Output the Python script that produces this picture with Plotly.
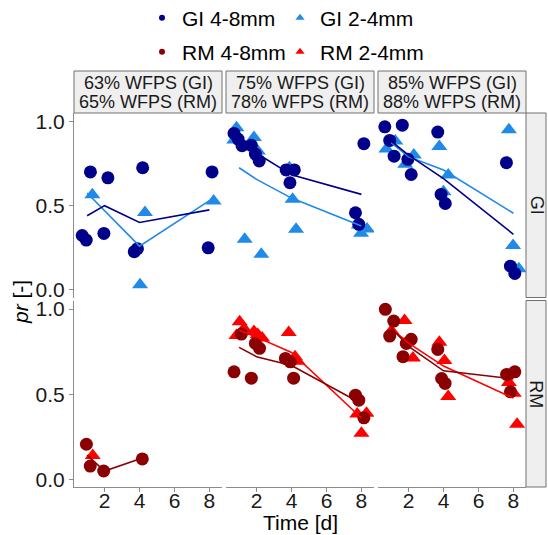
import plotly.graph_objects as go

# ---------------- data ----------------
TIMES = [1, 2, 4, 8]
X_TICKS = [2, 4, 6, 8]
Y_TICKS = [0.0, 0.5, 1.0]
Y_TICK_TEXT = ["0.0", "0.5", "1.0"]
STRIP_TOP_LINE1 = ["63% WFPS (GI)", "75% WFPS (GI)", "85% WFPS (GI)"]
STRIP_TOP_LINE2 = ["65% WFPS (RM)", "78% WFPS (RM)", "88% WFPS (RM)"]
ROW_LABELS = ["GI", "RM"]
SERIES_NAMES = ["GI 4-8mm", "GI 2-4mm", "RM 4-8mm", "RM 2-4mm"]

# GI 4-8mm points, one list per WFPS column
GI48_X = [[0.72, 0.95, 1.19, 1.96, 2.19, 3.70, 3.88, 4.18, 7.93, 8.15],
          [0.71, 0.94, 1.17, 1.70, 1.93, 2.15, 3.69, 3.91, 4.16, 7.66, 7.85, 8.14],
          [0.64, 0.92, 1.17, 1.64, 1.96, 2.15, 3.67, 3.86, 4.10, 7.60, 7.83, 8.08]]
GI48_Y = [[0.323, 0.296, 0.700, 0.335, 0.665, 0.227, 0.245, 0.725, 0.250, 0.700],
          [0.929, 0.895, 0.856, 0.858, 0.806, 0.765, 0.712, 0.636, 0.712, 0.458, 0.389, 0.868],
          [0.968, 0.887, 0.794, 0.978, 0.775, 0.685, 0.937, 0.567, 0.513, 0.755, 0.141, 0.098]]
# GI 2-4mm points
GI24_X = [[1.30, 4.03, 4.31, 8.24],
          [0.72, 0.85, 1.32, 1.85, 2.07, 2.27, 3.88, 4.06, 4.26, 7.85, 7.98, 8.32],
          [0.73, 1.24, 1.81, 2.30, 3.76, 4.00, 4.27, 7.74, 7.98, 8.31]]
GI24_Y = [[0.565, 0.030, 0.460, 0.527],
          [0.890, 0.963, 0.300, 0.905, 0.825, 0.211, 0.725, 0.538, 0.360, 0.386, 0.336, 0.362],
          [0.837, 0.884, 0.746, 0.801, 0.851, 0.583, 0.682, 0.950, 0.263, 0.125]]
# RM 4-8mm points
RM48_X = [[0.96, 1.18, 1.95, 4.16],
          [0.71, 1.13, 1.70, 1.93, 2.17, 3.65, 3.93, 4.12, 7.66, 7.85, 8.14],
          [0.67, 0.92, 1.15, 1.68, 1.87, 2.15, 3.67, 3.89, 4.09, 7.61, 7.83, 8.08]]
RM48_Y = [[0.206, 0.078, 0.049, 0.120],
          [0.631, 0.853, 0.594, 0.798, 0.769, 0.710, 0.690, 0.594, 0.494, 0.465, 0.361],
          [0.998, 0.841, 0.929, 0.720, 0.798, 0.822, 0.763, 0.592, 0.563, 0.616, 0.514, 0.631]]
# RM 2-4mm points
RM24_X = [[1.32],
          [0.85, 1.03, 1.28, 1.85, 2.07, 2.32, 3.84, 4.20, 4.35, 7.76, 8.00, 8.29],
          [1.02, 1.77, 2.25, 3.76, 4.05, 4.27, 7.74, 8.02, 8.21]]
RM24_Y = [[0.140],
          [0.845, 0.925, 0.885, 0.868, 0.850, 0.830, 0.862, 0.720, 0.693, 0.383, 0.270, 0.388],
          [0.873, 0.932, 0.712, 0.805, 0.697, 0.487, 0.569, 0.505, 0.324]]

# mean lines (time, value) per column
GI48_LINE_T = [[1, 2, 4, 8], [1, 2, 4, 8], [1, 2, 4, 8]]
GI48_LINE_Y = [[0.44, 0.50, 0.40, 0.475], [0.895, 0.811, 0.683, 0.567], [0.883, 0.80, 0.66, 0.33]]
GI24_LINE_T = [[1, 4, 8], [1, 2, 4, 8], [1, 2, 4, 8]]
GI24_LINE_Y = [[0.575, 0.26, 0.53], [0.725, 0.656, 0.545, 0.38], [0.874, 0.79, 0.712, 0.455]]
RM48_LINE_T = [[1, 2, 4], [1, 2, 4, 8], [1, 2, 4, 8]]
RM48_LINE_Y = [[0.142, 0.049, 0.12], [0.775, 0.72, 0.668, 0.445], [0.89, 0.78, 0.637, 0.59]]
RM24_LINE_T = [[], [1, 2, 4, 8], [1, 2, 4, 8]]
RM24_LINE_Y = [[], [0.876, 0.835, 0.745, 0.36], [0.886, 0.80, 0.665, 0.477]]

# ---------------- styling ----------------
FONT = "Liberation Sans, Arial, sans-serif"
COLORS = {"GI 4-8mm": "#00008B", "GI 2-4mm": "#1F8AE8",
          "RM 4-8mm": "#8B0000", "RM 2-4mm": "#FF0000"}
SYMBOLS = {"GI 4-8mm": "circle", "GI 2-4mm": "triangle-up",
           "RM 4-8mm": "circle", "RM 2-4mm": "triangle-up"}
SIZES = {"circle": 13, "triangle-up": 14}

W, H = 548, 535
ML, MR, MT, MB = 74, 2, 71, 48
PW, PH = W - ML - MR, H - MT - MB


def px_x(p):
    return (p - ML) / PW


def px_y(p):
    return (H - MB - p) / PH


COL_DOM = [[px_x(74), px_x(222)], [px_x(226), px_x(374)], [px_x(378), px_x(526)]]
ROW_DOM = [[px_y(297.5), px_y(113)], [px_y(487), px_y(300.5)]]
XR = [0.25, 8.72]
YR = [-0.045, 1.05]
AX_GREY = "#8C8C8C"
STRIP_FILL = "#EFEFEF"
STRIP_LINE = "#707070"

fig = go.Figure()

series = [
    ("GI 2-4mm", 0, GI24_X, GI24_Y, GI24_LINE_T, GI24_LINE_Y),
    ("GI 4-8mm", 0, GI48_X, GI48_Y, GI48_LINE_T, GI48_LINE_Y),
    ("RM 2-4mm", 1, RM24_X, RM24_Y, RM24_LINE_T, RM24_LINE_Y),
    ("RM 4-8mm", 1, RM48_X, RM48_Y, RM48_LINE_T, RM48_LINE_Y),
]


def ax_id(r, c):
    i = r * 3 + c + 1
    return ("x" if i == 1 else f"x{i}"), ("y" if i == 1 else f"y{i}")


# points
for name, r, xs, ys, lt, ly in series:
    for c in range(3):
        xa, ya = ax_id(r, c)
        fig.add_trace(go.Scatter(
            x=xs[c], y=ys[c], mode="markers", xaxis=xa, yaxis=ya,
            marker=dict(symbol=SYMBOLS[name], size=SIZES[SYMBOLS[name]], color=COLORS[name],
                        line=dict(width=0)),
            showlegend=False, hoverinfo="skip"))
# lines
for name, r, xs, ys, lt, ly in series:
    for c in range(3):
        if not lt[c]:
            continue
        xa, ya = ax_id(r, c)
        fig.add_trace(go.Scatter(
            x=lt[c], y=ly[c], mode="lines", xaxis=xa, yaxis=ya,
            line=dict(color=COLORS[name], width=1.6),
            showlegend=False, hoverinfo="skip"))

# legend entries (one legend each, positioned as in reference)
LEG_POS = {"GI 4-8mm": ("legend", 142, 18), "GI 2-4mm": ("legend2", 280, 18),
           "RM 4-8mm": ("legend3", 142, 52), "RM 2-4mm": ("legend4", 280, 52)}
for name in SERIES_NAMES:
    lg, lx, ly_ = LEG_POS[name]
    fig.add_trace(go.Scatter(
        x=[None], y=[None], mode="markers", name=name, legend=lg,
        marker=dict(symbol=SYMBOLS[name], size=6 if SYMBOLS[name] == "circle" else 8,
                    color=COLORS[name]),
        showlegend=True))

layout = dict(
    width=W, height=H,
    margin=dict(l=ML, r=MR, t=MT, b=MB, pad=0, autoexpand=False),
    paper_bgcolor="white", plot_bgcolor="white",
    font=dict(family=FONT, color="#000000"),
)
for lg, lx, ly_ in LEG_POS.values():
    layout[lg] = dict(x=px_x(lx), y=px_y(ly_), xanchor="left", yanchor="middle",
                      orientation="h", font=dict(size=21, color="#000000"),
                      bgcolor="rgba(0,0,0,0)", itemsizing="trace")

for r in range(2):
    for c in range(3):
        i = r * 3 + c + 1
        xkey = "xaxis" if i == 1 else f"xaxis{i}"
        ykey = "yaxis" if i == 1 else f"yaxis{i}"
        xa, ya = ax_id(r, c)
        bottom = (r == 1)
        left = (c == 0)
        layout[xkey] = dict(
            domain=COL_DOM[c], anchor=ya, range=XR, showgrid=False, zeroline=False,
            showline=bottom, linecolor=AX_GREY, linewidth=1,
            ticks="outside" if bottom else "", ticklen=4, tickcolor=AX_GREY,
            tickvals=X_TICKS, showticklabels=bottom, automargin=False,
            ticklabelstandoff=-9,
            tickfont=dict(size=21, color="#1A1A1A", family=FONT))
        layout[ykey] = dict(
            domain=ROW_DOM[r], anchor=xa, range=YR, showgrid=False, zeroline=False,
            showline=left, linecolor=AX_GREY, linewidth=1,
            ticks="outside" if left else "", ticklen=4, tickcolor=AX_GREY,
            tickvals=Y_TICKS, ticktext=Y_TICK_TEXT, showticklabels=left, automargin=False,
            tickfont=dict(size=21, color="#1A1A1A", family=FONT))

shapes = []
annotations = []
# top strips
for c in range(3):
    shapes.append(dict(type="rect", xref="paper", yref="paper",
                       x0=COL_DOM[c][0], x1=COL_DOM[c][1], y0=px_y(113), y1=px_y(71),
                       fillcolor=STRIP_FILL, line=dict(color=STRIP_LINE, width=1)))
    xc = (COL_DOM[c][0] + COL_DOM[c][1]) / 2
    annotations.append(dict(xref="paper", yref="paper", x=xc, y=px_y(83), text=STRIP_TOP_LINE1[c],
                            showarrow=False, xanchor="center", yanchor="middle",
                            font=dict(size=18, color="#1A1A1A", family=FONT)))
    annotations.append(dict(xref="paper", yref="paper", x=xc, y=px_y(102), text=STRIP_TOP_LINE2[c],
                            showarrow=False, xanchor="center", yanchor="middle",
                            font=dict(size=18, color="#1A1A1A", family=FONT)))
# right strips
for r in range(2):
    shapes.append(dict(type="rect", xref="paper", yref="paper",
                       x0=px_x(526), x1=px_x(546), y0=ROW_DOM[r][0], y1=ROW_DOM[r][1],
                       fillcolor=STRIP_FILL, line=dict(color=STRIP_LINE, width=1)))
    annotations.append(dict(xref="paper", yref="paper", x=px_x(536.5),
                            y=(ROW_DOM[r][0] + ROW_DOM[r][1]) / 2, text=ROW_LABELS[r],
                            showarrow=False, textangle=90, xanchor="center", yanchor="middle",
                            font=dict(size=18, color="#1A1A1A", family=FONT)))
# axis titles
annotations.append(dict(xref="paper", yref="paper", x=px_x(300), y=px_y(522), text="Time [d]",
                        showarrow=False, xanchor="center", yanchor="middle",
                        font=dict(size=21, color="#000000", family=FONT)))
annotations.append(dict(xref="paper", yref="paper", x=px_x(20), y=px_y(302), text="<i>pr</i> [-]",
                        showarrow=False, textangle=-90, xanchor="center", yanchor="middle",
                        font=dict(size=21, color="#000000", family=FONT)))

layout["shapes"] = shapes
layout["annotations"] = annotations
fig.update_layout(**layout)

fig.write_html("out.html", config={"displayModeBar": False},
               post_script="document.body.style.margin='0px';document.body.style.overflow='hidden';")
